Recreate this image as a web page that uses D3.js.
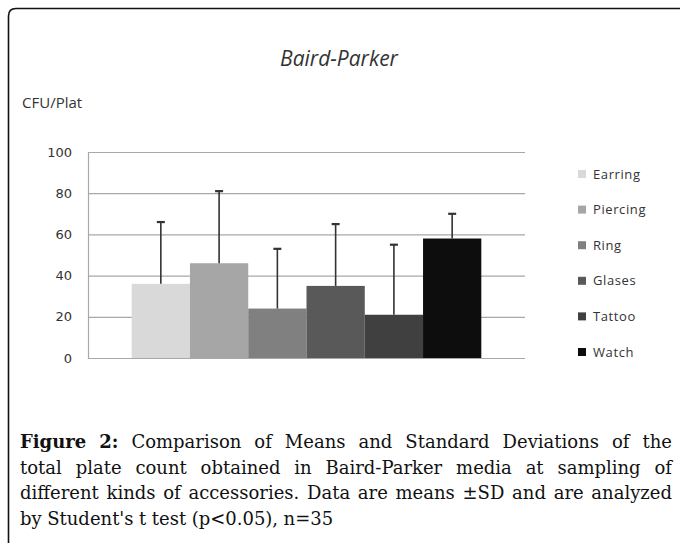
<!DOCTYPE html>
<head>
<meta charset="utf-8">
<script src="https://d3js.org/d3.v7.min.js"></script>
<style>
  body { margin: 0; background: #fff; }
  svg { display: block; }
  .tick text { font-family: "DejaVu Sans", sans-serif; font-size: 13px; fill: #333; }
  .legend text { font-family: "Open Sans", sans-serif; font-size: 13px; fill: #333; letter-spacing: 0.6px; }
  .caption { font-family: "DejaVu Serif", serif; font-size: 18px; fill: #111; }
</style>
</head>
<body>
<script>
// chart values
var categories = ["Earring", "Piercing", "Ring", "Glases", "Tattoo", "Watch"];
var means = [36, 46, 24, 35, 21, 58];
var sds = [30, 35, 29, 30, 34, 12];
var colors = ["#d9d9d9", "#a6a6a6", "#808080", "#595959", "#404040", "#0d0d0d"];
var yTicks = [0, 20, 40, 60, 80, 100];

var captionLines = [
  "Figure 2: Comparison of Means and Standard Deviations of the",
  "total plate count obtained in Baird-Parker media at sampling of",
  "different kinds of accessories. Data are means \u00b1SD and are analyzed",
  "by Student's t test (p<0.05), n=35"
];

var width = 680, height = 543;
var svg = d3.select("body").append("svg")
  .attr("width", width)
  .attr("height", height);

// frame: left edge + top edge with rounded corner
svg.append("path")
  .attr("d", "M8.5,543 L8.5,16 Q8.5,8.5 16,8.5 L680,8.5")
  .attr("fill", "none")
  .attr("stroke", "#111")
  .attr("stroke-width", 1.6);

var plotLeft = 88, plotRight = 525, plotTop = 152, plotBottom = 358;

var x = d3.scaleBand()
  .domain(categories)
  .range([plotLeft, plotRight])
  .paddingInner(0)
  .paddingOuter(0.75);

var y = d3.scaleLinear()
  .domain([0, 100])
  .range([plotBottom, plotTop]);

// title + unit
svg.append("text")
  .attr("x", 339).attr("y", 66)
  .attr("text-anchor", "middle")
  .style("font-family", "Open Sans, sans-serif")
  .style("font-style", "italic")
  .style("font-size", "21px")
  .style("fill", "#333")
  .text("Baird-Parker");

svg.append("text")
  .attr("x", 22).attr("y", 108)
  .style("font-family", "Open Sans, sans-serif")
  .style("font-size", "15px")
  .style("fill", "#333")
  .text("CFU/Plat");

// gridlines
svg.append("g").selectAll("line")
  .data(yTicks)
  .enter().append("line")
  .attr("x1", plotLeft).attr("x2", plotRight)
  .attr("y1", function(d) { return y(d) + 0.5; })
  .attr("y2", function(d) { return y(d) + 0.5; })
  .attr("stroke", "#a8a8a8")
  .attr("stroke-width", 1.2);

// y axis
var yAxis = d3.axisLeft(y).tickValues(yTicks).tickSize(0).tickPadding(16);
var gy = svg.append("g")
  .attr("transform", "translate(" + plotLeft + ",0)")
  .call(yAxis);
gy.select(".domain").remove();

svg.append("line")
  .attr("x1", plotLeft + 0.5).attr("x2", plotLeft + 0.5)
  .attr("y1", plotTop).attr("y2", plotBottom + 1)
  .attr("stroke", "#a8a8a8")
  .attr("stroke-width", 1.2);

// bars
var data = categories.map(function(c, i) {
  return {name: c, mean: means[i], sd: sds[i], color: colors[i]};
});

svg.append("g").selectAll("rect")
  .data(data)
  .enter().append("rect")
  .attr("x", function(d) { return x(d.name); })
  .attr("y", function(d) { return y(d.mean); })
  .attr("width", x.bandwidth())
  .attr("height", function(d) { return y(0) - y(d.mean); })
  .attr("fill", function(d) { return d.color; });

// error bars (upper only)
var err = svg.append("g").attr("stroke", "#333").attr("stroke-width", 1.6);
data.forEach(function(d) {
  var cx = x(d.name) + x.bandwidth() / 2;
  err.append("line")
    .attr("x1", cx).attr("x2", cx)
    .attr("y1", y(d.mean)).attr("y2", y(d.mean + d.sd));
  err.append("line")
    .attr("x1", cx - 4).attr("x2", cx + 4)
    .attr("y1", y(d.mean + d.sd)).attr("y2", y(d.mean + d.sd))
    .attr("stroke-width", 2.2);
});

// legend
var legend = svg.append("g").attr("class", "legend");
data.forEach(function(d, i) {
  var ly = 174 + i * 35.6;
  legend.append("rect")
    .attr("x", 578).attr("y", ly - 4)
    .attr("width", 8).attr("height", 8)
    .attr("fill", d.color);
  legend.append("text")
    .attr("x", 593).attr("y", ly)
    .attr("dy", "0.36em")
    .text(d.name);
});

// caption, justified lines
var capLeft = 20, capRight = 672;
captionLines.forEach(function(line, li) {
  var words = line.split(" ");
  var by = 448 + li * 25.6;
  var nodes = words.map(function(w, wi) {
    var t = svg.append("text")
      .attr("class", "caption")
      .attr("y", by)
      .text(w);
    if (li === 0 && wi < 2) t.style("font-weight", "bold");
    return t;
  });
  var widths = nodes.map(function(n) { return n.node().getComputedTextLength(); });
  var total = d3.sum(widths);
  var gap = 5.5;
  if (li < captionLines.length - 1) {
    gap = (capRight - capLeft - total) / (words.length - 1);
  }
  var cx = capLeft;
  nodes.forEach(function(n, i) {
    n.attr("x", cx);
    cx += widths[i] + gap;
  });
});
</script>
</body>
